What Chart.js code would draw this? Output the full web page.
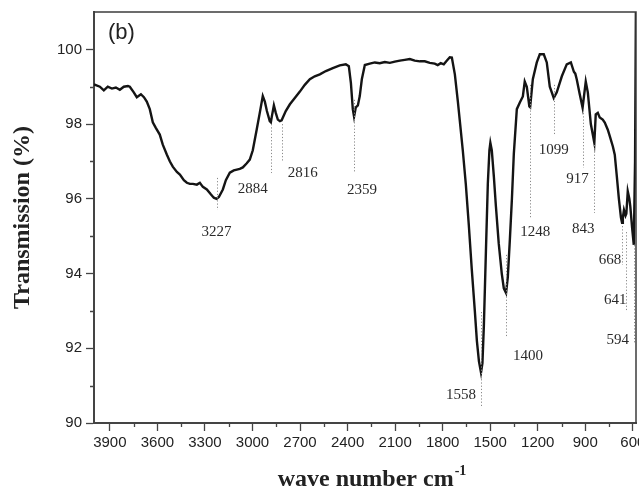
<!DOCTYPE html>
<html><head><meta charset="utf-8">
<script src="https://cdn.jsdelivr.net/npm/chart.js@4/dist/chart.umd.min.js"></script>
<style>html,body{margin:0;padding:0;background:#fff}</style>
</head><body>
<canvas id="c" width="639" height="489"></canvas>
<script>
// ---- data ----
const waveNumbers = [4000,3963,3938,3913,3887,3862,3837,3812,3786,3774,3749,3730,3704,3685,3667,3648,3629,3610,3585,3566,3540,3521,3503,3477,3458,3433,3414,3395,3376,3351,3332,3313,3288,3263,3244,3227,3212,3187,3168,3143,3118,3099,3080,3061,3036,3017,2998,2973,2954,2935,2922,2909,2891,2884,2878,2865,2853,2840,2827,2816,2790,2764,2733,2701,2670,2638,2607,2575,2537,2493,2449,2411,2392,2379,2367,2359,2348,2335,2323,2310,2291,2260,2228,2197,2165,2133,2102,2070,2039,2007,1976,1944,1913,1881,1850,1831,1812,1793,1773,1755,1742,1723,1704,1692,1673,1654,1635,1616,1597,1584,1571,1558,1549,1540,1527,1515,1505,1499,1490,1477,1464,1446,1427,1414,1400,1389,1376,1363,1351,1332,1313,1294,1282,1269,1253,1248,1231,1206,1187,1162,1143,1124,1099,1080,1048,1017,991,972,963,954,935,917,897,884,865,843,834,821,809,790,777,758,745,726,714,701,688,675,668,663,656,646,641,632,622,616,604,594,586,580];
const transmission = [99.06,99.0,98.9,99.0,98.95,98.98,98.92,99.0,99.02,99.0,98.85,98.72,98.8,98.72,98.6,98.4,98.05,97.9,97.72,97.45,97.18,97.0,96.86,96.72,96.65,96.5,96.43,96.4,96.4,96.38,96.43,96.32,96.25,96.12,96.03,96.0,96.05,96.25,96.5,96.7,96.76,96.78,96.8,96.84,96.95,97.05,97.3,97.86,98.3,98.75,98.6,98.35,98.08,98.05,98.2,98.5,98.3,98.12,98.08,98.1,98.35,98.53,98.7,98.87,99.05,99.2,99.28,99.33,99.42,99.5,99.57,99.6,99.55,99.1,98.4,98.2,98.45,98.5,98.75,99.2,99.58,99.62,99.65,99.63,99.66,99.64,99.67,99.7,99.72,99.74,99.7,99.68,99.68,99.64,99.62,99.58,99.63,99.6,99.7,99.79,99.78,99.33,98.6,98.1,97.3,96.4,95.3,94.1,93.0,92.2,91.65,91.35,91.6,92.6,94.6,96.4,97.3,97.5,97.3,96.6,95.8,94.8,94.0,93.6,93.48,93.9,94.9,96.0,97.2,98.4,98.58,98.74,99.14,99.0,98.47,98.45,99.2,99.65,99.87,99.87,99.65,99.0,98.7,98.85,99.28,99.6,99.65,99.4,99.35,99.2,98.8,98.44,99.14,98.85,98.0,97.5,98.26,98.3,98.18,98.12,98.04,97.85,97.67,97.4,97.18,96.6,96.0,95.5,95.36,95.5,95.7,95.55,95.6,96.2,96.0,95.8,95.2,94.77,97.0,101.5];

const xTickValues = [3900,3600,3300,3000,2700,2400,2100,1800,1500,1200,900,600];
const xMinorTicks = [3750,3450,3150,2850,2550,2250,1950,1650,1350,1050,750];
const yTickValues = [90,92,94,96,98,100];
const yMinorTicks = [91,93,95,97,99];

const peakLabels   = ['3227','2884','2816','2359','1558','1400','1248','1099','917','843','668','641','594'];
const peakWave     = [3227,2884,2816,2359,1558,1400,1248,1099,917,843,668,641,594];
const markerTop    = [96.56,98.0,98.0,98.65,92.97,94.5,99.05,99.05,98.38,97.44,95.27,95.11,94.76];
const markerBottom = [95.70,96.69,96.99,96.69,90.40,92.28,95.49,97.71,96.83,95.62,94.23,93.02,92.14];
const labelLevel   = [95.11,96.26,96.69,96.24,90.75,91.79,95.11,97.31,96.53,95.19,94.36,93.29,92.22];

// ---- layout / style (not data) ----
const labelShift = [0,-18,21,8,-20,22,5,0,-5,-11,-12,-11,-16];

const decor = {
  id: 'decor',
  afterDatasetsDraw(chart) {
    const {ctx, chartArea: a, scales: {x, y}} = chart;
    ctx.save();
    // frame top + right
    ctx.strokeStyle = '#3c3c3c'; ctx.lineWidth = 1.5;
    ctx.beginPath();
    ctx.moveTo(a.left, a.top); ctx.lineTo(a.right, a.top); ctx.lineTo(a.right, a.bottom);
    ctx.stroke();
    // minor ticks
    ctx.strokeStyle = '#444'; ctx.lineWidth = 1.3;
    ctx.beginPath();
    xMinorTicks.forEach(v => { const px = Math.round(x.getPixelForValue(v)) + 0.5; ctx.moveTo(px, a.bottom); ctx.lineTo(px, a.bottom + 4); });
    yMinorTicks.forEach(v => { const py = Math.round(y.getPixelForValue(v)) + 0.5; ctx.moveTo(a.left, py); ctx.lineTo(a.left - 4, py); });
    ctx.stroke();
    // peak markers
    ctx.strokeStyle = '#8a8a8a'; ctx.lineWidth = 1; ctx.setLineDash([1.2, 2]);
    ctx.beginPath();
    peakWave.forEach((w, i) => {
      const px = Math.round(x.getPixelForValue(w)) + 0.5;
      ctx.moveTo(px, y.getPixelForValue(markerTop[i]));
      ctx.lineTo(px, y.getPixelForValue(markerBottom[i]));
    });
    ctx.stroke();
    ctx.setLineDash([]);
    ctx.fillStyle = '#2a2a2a';
    ctx.font = '15px "Liberation Serif", "Times New Roman", serif';
    ctx.textAlign = 'center'; ctx.textBaseline = 'middle';
    peakLabels.forEach((t, i) => {
      ctx.fillText(t, x.getPixelForValue(peakWave[i]) + labelShift[i], y.getPixelForValue(labelLevel[i]));
    });
    // panel letter
    ctx.font = '22px "Liberation Sans", Arial, sans-serif';
    ctx.textAlign = 'left'; ctx.fillStyle = '#222';
    ctx.fillText('(b)', a.left + 14, a.top + 21);
    // x axis title with superscript
    const main = 'wave number cm', sup = '-1';
    ctx.font = 'bold 24px "Liberation Serif", "Times New Roman", serif';
    const w1 = ctx.measureText(main).width;
    ctx.font = 'bold 14px "Liberation Serif", "Times New Roman", serif';
    const w2 = ctx.measureText(sup).width;
    const cx = 372, x0 = cx - (w1 + w2 + 1) / 2;
    ctx.textBaseline = 'alphabetic';
    ctx.font = 'bold 24px "Liberation Serif", "Times New Roman", serif';
    ctx.fillText(main, x0, 486);
    ctx.font = 'bold 14px "Liberation Serif", "Times New Roman", serif';
    ctx.fillText(sup, x0 + w1 + 1, 475);
    ctx.restore();
  }
};

new Chart(document.getElementById('c'), {
  type: 'line',
  data: {
    datasets: [{
      data: waveNumbers.map((w, i) => ({x: w, y: transmission[i]})),
      borderColor: '#141414',
      borderWidth: 2.4,
      pointRadius: 0,
      tension: 0,
      fill: false
    }]
  },
  options: {
    responsive: false,
    animation: false,
    devicePixelRatio: 1,
    layout: {padding: {top: 12, right: 3, left: 0, bottom: 0}},
    plugins: {legend: {display: false}, tooltip: {enabled: false}},
    scales: {
      x: {
        type: 'linear', reverse: true, min: 580, max: 4000,
        afterBuildTicks: s => { s.ticks = xTickValues.map(v => ({value: v})); },
        afterFit: s => { s.height = 66; s.paddingLeft = 0; s.paddingRight = 0; },
        grid: {display: true, drawOnChartArea: false, tickLength: 8, tickColor: '#444', tickWidth: 1.3},
        border: {display: true, color: '#444', width: 2},
        ticks: {autoSkip: false, maxRotation: 0, padding: 3, color: '#222',
          callback: v => String(v),
          font: {family: '"Liberation Sans", Arial, sans-serif', size: 15}},
        title: {display: false}
      },
      y: {
        type: 'linear', min: 90, max: 101,
        afterBuildTicks: s => { s.ticks = yTickValues.map(v => ({value: v})); },
        afterFit: s => { s.width = 94; s.paddingTop = 0; s.paddingBottom = 0; },
        grid: {display: true, drawOnChartArea: false, tickLength: 8, tickColor: '#444', tickWidth: 1.3},
        border: {display: true, color: '#444', width: 2},
        ticks: {padding: 4, color: '#222', callback: v => String(v),
          font: {family: '"Liberation Sans", Arial, sans-serif', size: 15}},
        title: {display: true, text: 'Transmission (%)', color: '#222',
          padding: {top: 8, bottom: 0},
          font: {family: '"Liberation Serif", "Times New Roman", serif', size: 24, weight: 'bold'}}
      }
    }
  },
  plugins: [decor]
});
</script>
</body></html>
